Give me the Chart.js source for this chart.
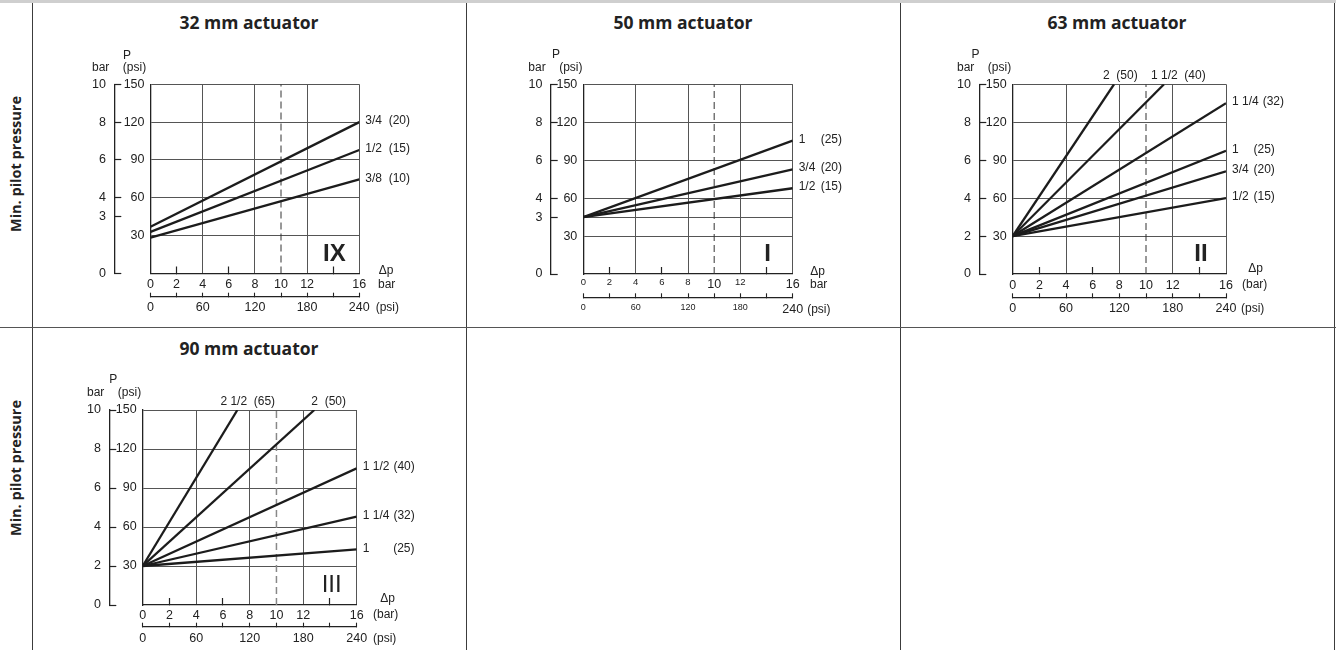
<!DOCTYPE html>
<html>
<head>
<meta charset="utf-8">
<script src="https://cdn.jsdelivr.net/npm/chart.js@4.4.1/dist/chart.umd.min.js"></script>
<style>
  body { margin: 0; width: 1336px; height: 650px; overflow: hidden; background: #fff; position: relative; font-family: "Open Sans", sans-serif; }
  .band { position: absolute; left: 0; top: 0; width: 1336px; height: 3px; background: #cfcfcf; }
  .vl { position: absolute; top: 3px; width: 0; height: 647px; border-left: 1.5px solid #3c3c3c; }
  .hl { position: absolute; left: 0; top: 327px; width: 1336px; height: 0; border-top: 1.5px solid #555; }
  .title { position: absolute; width: 434px; text-align: center; font-weight: 700; font-size: 17.5px; line-height: 24px; color: #222; }
  .side { position: absolute; width: 200px; text-align: center; font-weight: 700; font-size: 14.5px; line-height: 20px; color: #222; transform: rotate(-90deg); white-space: nowrap; }
  canvas { position: absolute; }
</style>
</head>
<body>
<div class="band"></div>
<div class="vl" style="left:32px"></div>
<div class="vl" style="left:466px"></div>
<div class="vl" style="left:900px"></div>
<div class="vl" style="left:1334px"></div>
<div class="hl"></div>
<div class="side" style="left:-84px; top:154px">Min. pilot pressure</div>
<div class="side" style="left:-84px; top:458px">Min. pilot pressure</div>
<div class="title" style="left:32px; top:10px">32 mm actuator</div>
<div class="title" style="left:466px; top:10px">50 mm actuator</div>
<div class="title" style="left:900px; top:10px">63 mm actuator</div>
<div class="title" style="left:32px; top:336px">90 mm actuator</div>

<script>
const PSI_PER_BAR = 15;

// shared axes
const dpTicks = [0, 2, 4, 6, 8, 10, 12, 14, 16];
const dpLabels = ["0", "2", "4", "6", "8", "10", "12", "", "16"];
const dpGrid = [4, 8, 12, 16];
const dpMarks = [2, 6, 14];
const psiDpTicks = [0, 30, 60, 90, 120, 150, 180, 210, 240];
const psiDpLabels = ["0", "", "60", "", "120", "", "180", "", "240"];
const refDp = 10;

const barTicksA = [0, 3, 4, 6, 8, 10];
const barTicksB = [0, 2, 4, 6, 8, 10];
const psiTicks = [30, 60, 90, 120, 150];
const psiLabels = ["30", "60", "90", "120", "150"];
const psiTicks50 = [30, 45, 60, 90, 120, 150];
const psiLabels50 = ["30", "", "60", "90", "120", "150"];

// 32 mm actuator (IX)
const names32 = ["3/4", "1/2", "3/8"];
const mm32 = ["(20)", "(15)", "(10)"];
const pStart32 = [2.47, 2.2, 1.9];
const pEnd32 = [8.0, 6.53, 4.97];
const dpEnd32 = [16, 16, 16];

// 50 mm actuator (I)
const names50 = ["1", "3/4", "1/2"];
const mm50 = ["(25)", "(20)", "(15)"];
const pStart50 = [3.0, 3.0, 3.0];
const pEnd50 = [7.03, 5.52, 4.52];
const dpEnd50 = [16, 16, 16];

// 63 mm actuator (II)
const names63 = ["2", "1 1/2", "1 1/4", "1", "3/4", "1/2"];
const mm63 = ["(50)", "(40)", "(32)", "(25)", "(20)", "(15)"];
const pStart63 = [2, 2, 2, 2, 2, 2];
const pEnd63 = [10, 10, 9.0, 6.5, 5.41, 4.0];
const dpEnd63 = [7.6, 11.35, 16, 16, 16, 16];

// 90 mm actuator (III)
const names90 = ["2 1/2", "2", "1 1/2", "1 1/4", "1"];
const mm90 = ["(65)", "(50)", "(40)", "(32)", "(25)"];
const pStart90 = [2, 2, 2, 2, 2];
const pEnd90 = [10, 10, 7.01, 4.53, 2.85];
const dpEnd90 = [7.08, 12.83, 16, 16, 16];

Chart.defaults.font.family = '"Liberation Sans", Arial, Helvetica, sans-serif';
Chart.defaults.font.size = 12;
Chart.defaults.color = '#222';

const FONT = '"Liberation Sans", Arial, Helvetica, sans-serif';
const INK = '#222';
const CLEAR = 'rgba(0,0,0,0)';

function decoPlugin(cfg) {
  return {
    id: 'deco',
    afterDraw(chart) {
      const { ctx, chartArea: a, scales } = chart;
      const d = cfg.deco;
      const bx = scales.yb.right;
      ctx.save();
      ctx.fillStyle = INK;
      ctx.font = '12px ' + FONT;
      ctx.textBaseline = 'middle';

      ctx.textAlign = 'center';
      ctx.fillText('P', bx + d.pDx, a.top - d.headDy - 12.5);
      ctx.textAlign = 'right';
      ctx.fillText('bar', bx - 5, a.top - d.headDy);
      ctx.textAlign = 'left';
      ctx.fillText('(psi)', bx + 8.5, a.top - d.headDy);

      ctx.textAlign = 'center';
      ctx.fillText('\u0394p', a.right + d.dpDx, a.bottom - d.dpDy);
      ctx.textAlign = 'left';
      ctx.fillText(cfg.unit, a.right + d.unitDx, cfg.xLblY - cfg.box.y);
      ctx.fillText('(psi)', a.right + d.psiDx, cfg.psiLblY - cfg.box.y);

      let t = 0;
      cfg.names.forEach((n, i) => {
        const x = scales.x.getPixelForValue(cfg.dpEnd[i]);
        const y = scales.y.getPixelForValue(cfg.pEnd[i]);
        if (cfg.pEnd[i] >= 10) {
          ctx.fillText(n + '  ' + cfg.mm[i], x + d.topDx[t++], a.top - 8.5);
        } else {
          const lx = a.right + 6;
          const ly = y - 1.2;
          ctx.fillText(n, lx, ly);
          ctx.fillText(cfg.mm[i], lx + Math.max(d.mmCol, ctx.measureText(n).width + 4), ly);
        }
      });

      ctx.font = (cfg.romanBold ? 'bold ' : '') + '24px ' + FONT;
      ctx.textAlign = 'center';
      ctx.fillText(cfg.roman, a.right - 25, a.bottom - 19.5);
      ctx.restore();
    }
  };
}

function makeChart(cfg) {
  const cv = document.createElement('canvas');
  cv.width = cfg.box.w;
  cv.height = cfg.box.h;
  cv.style.left = cfg.box.x + 'px';
  cv.style.top = cfg.box.y + 'px';
  cv.style.width = cfg.box.w + 'px';
  cv.style.height = cfg.box.h + 'px';
  document.body.appendChild(cv);

  const datasets = cfg.names.map((n, i) => ({
    label: n + ' ' + cfg.mm[i],
    data: [{ x: 0, y: cfg.pStart[i] }, { x: cfg.dpEnd[i], y: cfg.pEnd[i] }],
    borderColor: '#1c1c1c',
    borderWidth: 2.3,
    pointRadius: 0,
    showLine: true,
  }));
  datasets.push({
    label: 'ref',
    data: [{ x: refDp, y: 0 }, { x: refDp, y: 10 }],
    borderColor: cfg.dashColor,
    borderWidth: cfg.dashWidth,
    borderDash: [7, 4],
    pointRadius: 0,
    showLine: true,
  });

  const small = cfg.smallTicks;
  const x2H = 22;

  new Chart(cv.getContext('2d'), {
    type: 'scatter',
    data: { datasets },
    options: {
      responsive: false,
      devicePixelRatio: 1,
      animation: false,
      layout: {
        padding: {
          left: 0,
          top: cfg.area.t - cfg.box.y,
          right: cfg.box.x + cfg.box.w - cfg.area.r,
          bottom: cfg.box.y + cfg.box.h - (cfg.x2line + x2H),
        },
      },
      plugins: { legend: { display: false }, tooltip: { enabled: false } },
      scales: {
        x: {
          type: 'linear', position: 'bottom', min: 0, max: 16, weight: 0,
          afterBuildTicks: (s) => { s.ticks = dpTicks.map((v) => ({ value: v })); },
          afterFit: (s) => { s.height = cfg.x2line - cfg.area.b; },
          ticks: {
            autoSkip: false, maxRotation: 0, minRotation: 0,
            padding: cfg.xLblY - cfg.area.b - 0.2,
            callback: (v, i) => dpLabels[i],
            font: (c) => ({ size: small && c.tick && c.tick.value !== 10 && c.tick.value !== 16 ? 9.5 : 12.5 }),
          },
          grid: {
            color: (c) => (c.tick && dpGrid.includes(c.tick.value) ? '#555' : CLEAR),
            lineWidth: 1,
            drawTicks: true,
            tickLength: -7,
            tickColor: (c) => (c.tick && dpMarks.includes(c.tick.value) ? INK : CLEAR),
            tickWidth: 1.2,
          },
          border: { display: true, color: INK, width: 1.3 },
        },
        x2: {
          type: 'linear', position: 'bottom', min: 0, max: 240, weight: 1, display: true,
          afterBuildTicks: (s) => { s.ticks = psiDpTicks.map((v) => ({ value: v })); },
          afterFit: (s) => { s.height = x2H; },
          ticks: {
            autoSkip: false, maxRotation: 0, minRotation: 0,
            padding: cfg.psiLblY - cfg.x2line - 3.2,
            callback: (v, i) => psiDpLabels[i],
            font: (c) => ({ size: small && c.tick && c.tick.value !== 240 ? 9 : 12.5 }),
          },
          grid: { display: true, drawOnChartArea: false, drawTicks: true, tickLength: -4, tickColor: INK, tickWidth: 1.1 },
          border: { display: true, color: INK, width: 1.3 },
        },
        y: {
          type: 'linear', position: 'left', min: 0, max: 10, weight: 0,
          afterBuildTicks: (s) => { s.ticks = cfg.psiTicks.map((p) => ({ value: p / PSI_PER_BAR })); },
          afterFit: (s) => { s.width = cfg.area.l - cfg.bracket; },
          ticks: { autoSkip: false, padding: 6, font: { size: 12.5 }, callback: (v, i) => cfg.psiLabels[i] },
          grid: { color: '#555', lineWidth: 1, drawTicks: false },
          border: { display: true, color: INK, width: 1.3 },
        },
        yb: {
          type: 'linear', position: 'left', min: 0, max: 10, weight: 1, display: true,
          afterBuildTicks: (s) => { s.ticks = cfg.barTicks.map((v) => ({ value: v })); },
          afterFit: (s) => { s.width = cfg.bracket - cfg.box.x; },
          ticks: { autoSkip: false, padding: 15.3, font: { size: 12.5 }, callback: (v) => String(v) },
          grid: { display: true, drawOnChartArea: false, drawTicks: true, tickLength: -7, tickColor: INK, tickWidth: 1.2 },
          border: { display: true, color: INK, width: 1.3 },
        },
      },
    },
    plugins: [decoPlugin(cfg)],
  });
}

makeChart({
  box: { x: 34, y: 40, w: 430, h: 286 },
  area: { l: 150.5, t: 84.3, r: 359.3, b: 273.5 },
  bracket: 114.3, x2line: 296.7, xLblY: 284.3, psiLblY: 307.7,
  barTicks: barTicksA, psiTicks: psiTicks, psiLabels: psiLabels,
  names: names32, mm: mm32, pStart: pStart32, pEnd: pEnd32, dpEnd: dpEnd32,
  roman: 'IX', romanBold: true, unit: 'bar', smallTicks: false,
  dashColor: '#333', dashWidth: 1,
  deco: { pDx: 12.7, headDy: 16.3, dpDx: 26.7, dpDy: 2.8, unitDx: 18.7, psiDx: 16.4, mmCol: 23.4, topDx: [] },
});

makeChart({
  box: { x: 468, y: 40, w: 430, h: 286 },
  area: { l: 583.3, t: 84.3, r: 792.7, b: 274 },
  bracket: 550.7, x2line: 297.3, xLblY: 284.3, psiLblY: 309.3,
  barTicks: barTicksA, psiTicks: psiTicks50, psiLabels: psiLabels50,
  names: names50, mm: mm50, pStart: pStart50, pEnd: pEnd50, dpEnd: dpEnd50,
  roman: 'I', romanBold: true, unit: 'bar', smallTicks: true,
  dashColor: '#333', dashWidth: 1,
  deco: { pDx: 5.3, headDy: 17, dpDx: 24.8, dpDy: 2.3, unitDx: 17.3, psiDx: 14.5, mmCol: 22, topDx: [] },
});

makeChart({
  box: { x: 902, y: 40, w: 430, h: 286 },
  area: { l: 1012.7, t: 84.3, r: 1226, b: 274 },
  bracket: 979.3, x2line: 297.3, xLblY: 285, psiLblY: 308.3,
  barTicks: barTicksB, psiTicks: psiTicks, psiLabels: psiLabels,
  names: names63, mm: mm63, pStart: pStart63, pEnd: pEnd63, dpEnd: dpEnd63,
  roman: 'II', romanBold: true, unit: '(bar)', smallTicks: false,
  dashColor: '#333', dashWidth: 1,
  deco: { pDx: -3.8, headDy: 17, dpDx: 29.5, dpDy: 5.7, unitDx: 16, psiDx: 15, mmCol: 21.5, topDx: [-11, -13] },
});

makeChart({
  box: { x: 34, y: 366, w: 430, h: 284 },
  area: { l: 142.7, t: 410, r: 356.7, b: 605 },
  bracket: 109.3, x2line: 626.7, xLblY: 615, psiLblY: 638.3,
  barTicks: barTicksB, psiTicks: psiTicks, psiLabels: psiLabels,
  names: names90, mm: mm90, pStart: pStart90, pEnd: pEnd90, dpEnd: dpEnd90,
  roman: 'III', romanBold: false, unit: '(bar)', smallTicks: false,
  dashColor: '#888', dashWidth: 1.5,
  deco: { pDx: 4, headDy: 17.7, dpDx: 30.8, dpDy: 6.7, unitDx: 16.3, psiDx: 16.3, mmCol: 30.5, topDx: [-17, -3] },
});
</script>
</body>
</html>
